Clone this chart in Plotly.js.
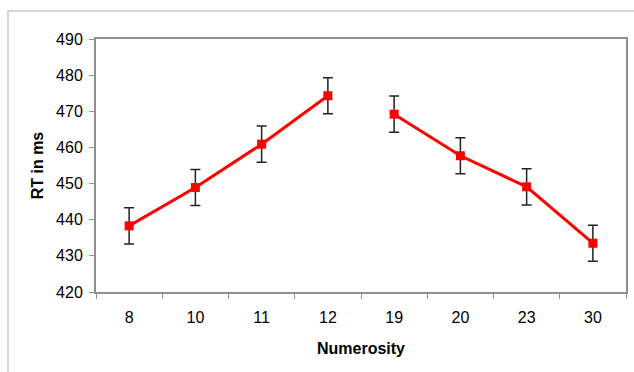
<!DOCTYPE html>
<html>
<head>
<meta charset="utf-8">
<script src="https://cdn.plot.ly/plotly-3.0.1.min.js"></script>
<style>
  html, body { margin: 0; padding: 0; background: #ffffff; overflow: hidden; }
  #frame { position: absolute; left: 7px; top: 10px; width: 700px; height: 400px;
           border-left: 2px solid #d4d4d4; border-top: 2px solid #d4d4d4; }
  #chart { position: absolute; left: 0; top: 0; width: 634px; height: 372px; }
</style>
</head>
<body>
<div id="frame"></div>
<div id="chart"></div>
<script>
const categories = ['8', '10', '11', '12', '19', '20', '23', '30'];
const rtValues   = [438.3, 448.9, 460.9, 474.3, 469.2, 457.7, 449.1, 433.5];
const rtErrors   = [5.0, 5.0, 5.0, 5.0, 5.0, 5.0, 5.0, 5.0];
const yTickValues = [420, 430, 440, 450, 460, 470, 480, 490];

const splitAt = 4;

function segment(start, end) {
  return {
    type: 'scatter',
    mode: 'lines+markers',
    x: categories.slice(start, end),
    y: rtValues.slice(start, end),
    error_y: {
      type: 'data',
      array: rtErrors.slice(start, end),
      visible: true,
      color: '#222222',
      thickness: 1.5,
      width: 5
    },
    line: { color: '#ff0000', width: 3 },
    marker: { color: '#ff0000', symbol: 'square', size: 9 },
    showlegend: false,
    hoverinfo: 'x+y'
  };
}

const data = [segment(0, splitAt), segment(splitAt, categories.length)];

const layout = {
  width: 634,
  height: 372,
  margin: { l: 96, r: 8, t: 39, b: 80 },
  paper_bgcolor: 'rgba(0,0,0,0)',
  plot_bgcolor: '#ffffff',
  font: { family: 'Liberation Sans, Arial, sans-serif', size: 16, color: '#000000' },
  xaxis: {
    type: 'category',
    categoryorder: 'array',
    categoryarray: categories,
    range: [-0.5, categories.length - 0.5],
    tickson: 'boundaries',
    ticks: 'outside',
    ticklen: 5,
    tickcolor: '#909090',
    tickwidth: 1,
    showline: true,
    mirror: true,
    linecolor: '#909090',
    linewidth: 2,
    showgrid: false,
    zeroline: false,
    ticklabelstandoff: 10,
    tickfont: { size: 16 },
    title: { text: '<b>Numerosity</b>', font: { size: 16 }, standoff: 18 }
  },
  yaxis: {
    range: [420, 490],
    tickvals: yTickValues,
    ticktext: yTickValues.map(String),
    ticks: 'outside',
    ticklen: 5,
    tickcolor: '#909090',
    tickwidth: 1,
    showline: true,
    mirror: true,
    linecolor: '#909090',
    linewidth: 2,
    showgrid: false,
    zeroline: false,
    ticklabelstandoff: 3,
    tickfont: { size: 16 },
    title: { text: '<b>RT in ms</b>', font: { size: 16 }, standoff: 8 }
  }
};

Plotly.newPlot('chart', data, layout, { displayModeBar: false, staticPlot: true });
</script>
</body>
</html>
